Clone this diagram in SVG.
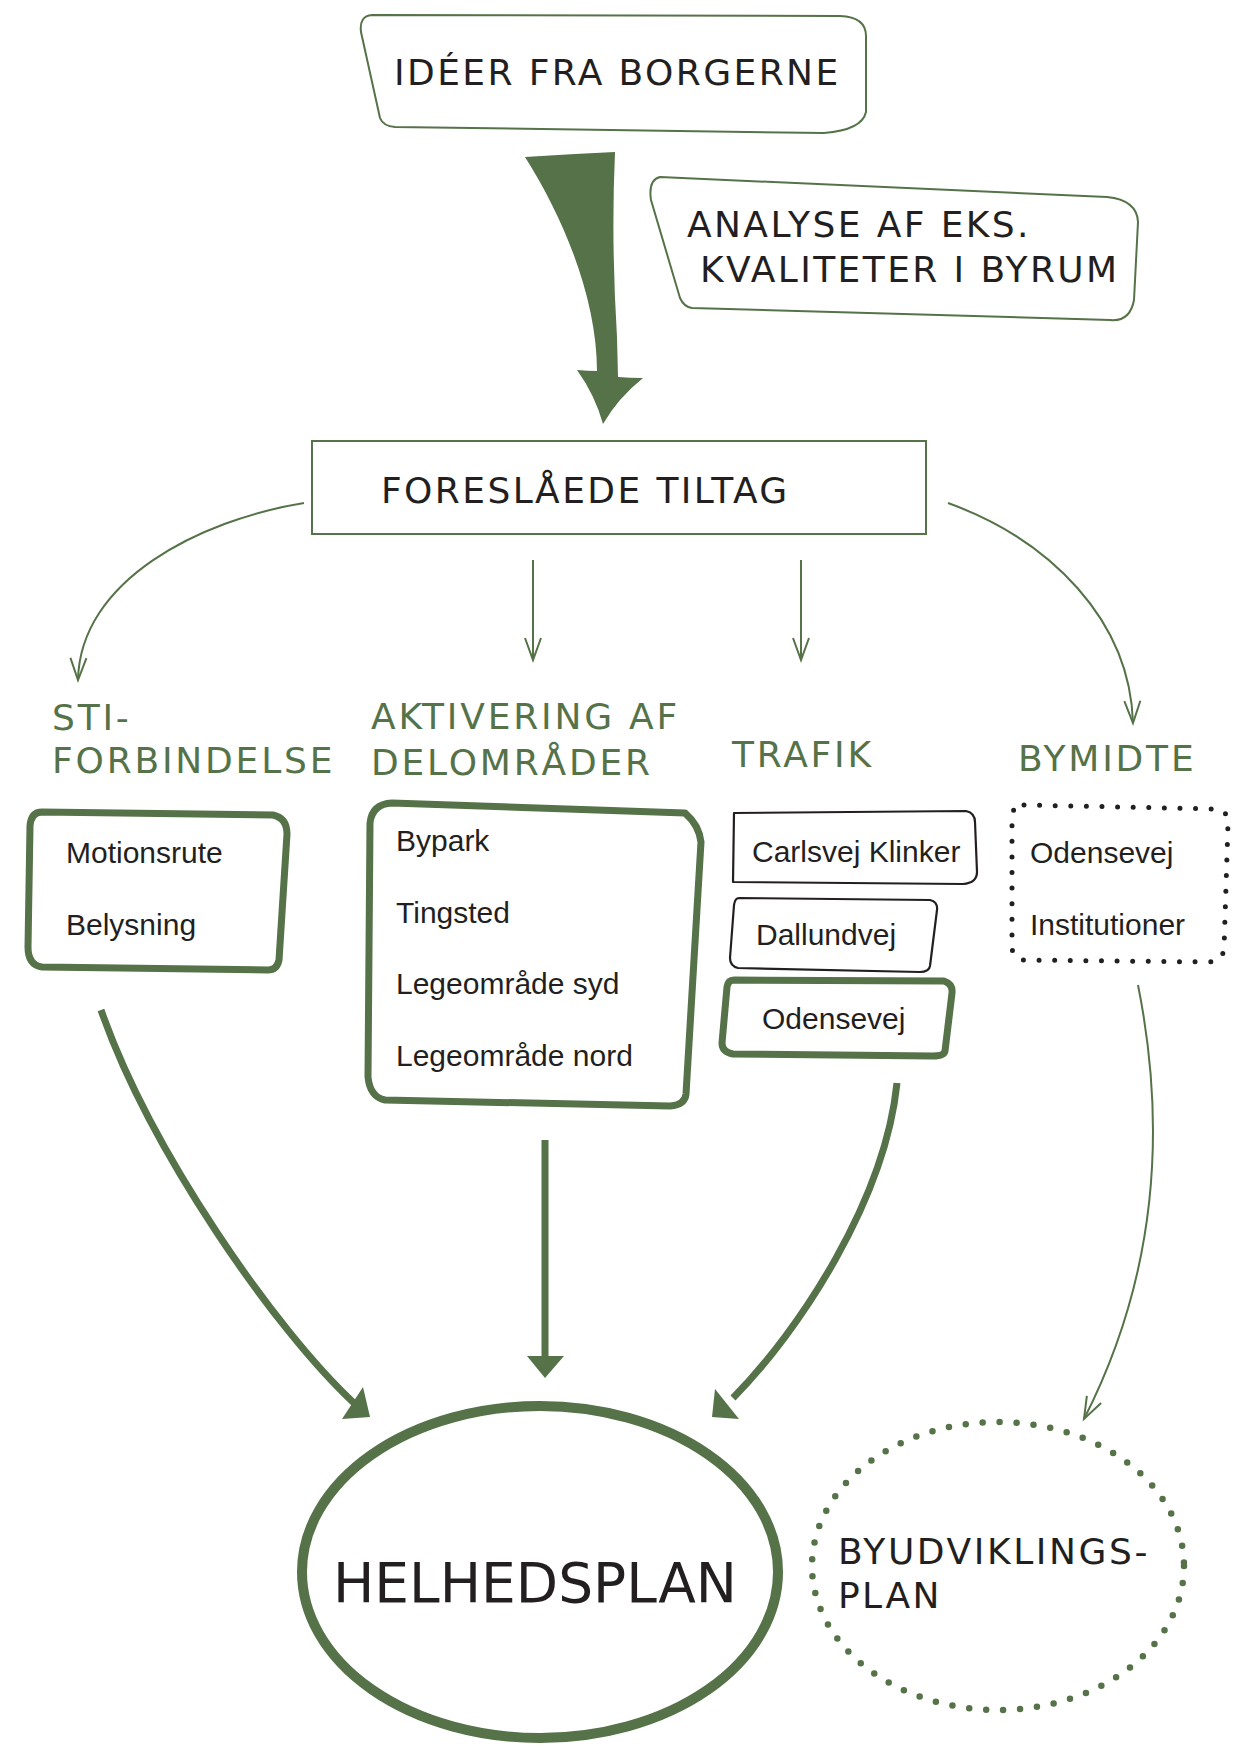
<svg xmlns="http://www.w3.org/2000/svg" width="1236" height="1748" viewBox="0 0 1236 1748">
<style>
.title{font-family:"DejaVu Sans","Liberation Sans",sans-serif;font-size:36px;letter-spacing:2.4px;fill:#231f20}
.head{font-family:"DejaVu Sans","Liberation Sans",sans-serif;font-size:36px;letter-spacing:2.8px;fill:#557248}
.item{font-family:"Liberation Sans",Arial,sans-serif;font-size:30px;fill:#231f20}
.thin{fill:none;stroke:#557248;stroke-width:2}
.thick{fill:none;stroke:#557248;stroke-width:7}
.gfill{fill:#557248;stroke:none}
.gbox{fill:none;stroke:#557248;stroke-width:7;stroke-linejoin:round}
.kbox{fill:none;stroke:#231f20;stroke-width:2.2;stroke-linejoin:round}
</style>
<defs>
<marker id="vhead" markerUnits="userSpaceOnUse" markerWidth="40" markerHeight="40" viewBox="-30 -20 40 40" refX="0" refY="0" orient="auto" overflow="visible">
<path d="M-22,-8 L0,0 L-22,8" fill="none" stroke="#557248" stroke-width="2"/>
</marker>
</defs>
<rect width="1236" height="1748" fill="#ffffff"/>

<g id="connectors">
<path id="bigArrow" class="gfill" d="M525,157 Q570,154 615,152 Q611,240 617,337 L618,377 Q630,378 643,378 Q618,398 603,424 Q595,395 577,370 Q588,371 597,371 C597,300 565,220 525,157 Z"/>
<path class="thin" d="M304,503 C200,520 80,580 78,680" marker-end="url(#vhead)"/>
<path class="thin" d="M533,560 L533,660" marker-end="url(#vhead)"/>
<path class="thin" d="M801,560 L801,660" marker-end="url(#vhead)"/>
<path class="thin" d="M948,503 C1050,540 1130,620 1133,723" marker-end="url(#vhead)"/>
<path class="thick" d="M101,1010 C150,1150 275,1330 355,1404"/>
<polygon class="gfill" points="370,1417 342,1419 363,1387"/>
<path class="thick" d="M545,1140 L545,1360"/>
<polygon class="gfill" points="527,1356 564,1356 545,1378"/>
<path class="thick" d="M897,1083 C885,1200 800,1330 733,1398"/>
<polygon class="gfill" points="712,1417 715,1389 739,1419"/>
<path class="thin" d="M1138,985 C1165,1120 1160,1270 1084,1419" marker-end="url(#vhead)"/>
</g>

<g id="node-ideer">
<path class="thin" d="M372,15 L840,16 Q866,17 866,36 L866,112 Q862,130 824,133 L395,127 Q383,126 380,118 L361,32 Q359,16 372,15 Z"/>
<text class="title" x="394" y="85">IDÉER FRA BORGERNE</text>
</g>

<g id="node-analyse">
<path class="thin" d="M660,177 L1107,197 Q1137,200 1138,222 L1134,300 Q1130,322 1110,320 L692,308 Q684,307 680,298 L651,200 Q648,180 660,177 Z"/>
<text class="title" x="687" y="237">ANALYSE AF EKS.</text>
<text class="title" x="700" y="282">KVALITETER I BYRUM</text>
</g>

<g id="node-foreslaaede">
<rect x="312" y="441" width="614" height="93" class="thin"/>
<text class="title" x="381" y="503">FORESLÅEDE TILTAG</text>
</g>

<g id="node-sti">
<text class="head" x="52" y="730">STI-</text>
<text class="head" x="52" y="773">FORBINDELSE</text>
<path class="gbox" d="M42,812 L273,815 Q287,818 287,834 L279,960 Q277,970 268,970 L42,967 Q28,965 28,947 L30,826 Q31,812 42,812 Z"/>
<text class="item" x="66" y="863">Motionsrute</text>
<text class="item" x="66" y="935">Belysning</text>
</g>

<g id="node-aktivering">
<text class="head" x="371" y="729">AKTIVERING AF</text>
<text class="head" x="371" y="775">DELOMRÅDER</text>
<path class="gbox" d="M392,803 L685,813 Q699,825 701,842 L686,1094 Q685,1105 670,1106 L385,1100 Q370,1097 368,1077 L370,823 Q372,804 392,803 Z"/>
<text class="item" x="396" y="851">Bypark</text>
<text class="item" x="396" y="923">Tingsted</text>
<text class="item" x="396" y="994">Legeområde syd</text>
<text class="item" x="396" y="1066">Legeområde nord</text>
</g>

<g id="node-trafik">
<text class="head" x="732" y="767">TRAFIK</text>
<path class="kbox" d="M734,813 L966,811 Q975,813 975,822 L977,872 Q977,883 963,884 L733,882 Z"/>
<text class="item" x="752" y="862">Carlsvej Klinker</text>
<path class="kbox" d="M739,898 L930,900 Q938,902 937,910 L930,966 Q929,972 920,972 L738,968 Q730,966 730,958 L734,905 Q735,898 739,898 Z"/>
<text class="item" x="756" y="945">Dallundvej</text>
<path class="gbox" d="M734,980 L944,981 Q953,984 952,993 L945,1051 Q944,1056 933,1056 L733,1054 Q722,1052 722,1043 L727,987 Q728,980 734,980 Z"/>
<text class="item" x="762" y="1029">Odensevej</text>
</g>

<g id="node-bymidte">
<text class="head" x="1018" y="771">BYMIDTE</text>
<path d="M1024,805 L1216,809 Q1229,811 1228,824 L1224,949 Q1222,962 1208,962 L1024,960 Q1012,959 1012,946 L1012,818 Q1012,805 1024,805 Z" fill="none" stroke="#231f20" stroke-width="5" stroke-linecap="round" stroke-dasharray="0 15.6"/>
<text class="item" x="1030" y="863">Odensevej</text>
<text class="item" x="1030" y="935">Institutioner</text>
</g>

<g id="node-helhedsplan">
<ellipse cx="540" cy="1572" rx="238" ry="166" fill="none" stroke="#557248" stroke-width="10"/>
<text x="333" y="1602" style="font-family:'DejaVu Sans','Liberation Sans',sans-serif;font-size:55px;fill:#231f20">HELHEDSPLAN</text>
</g>

<g id="node-byudvikling">
<ellipse cx="998" cy="1566" rx="186" ry="144" fill="none" stroke="#557248" stroke-width="6.5" stroke-linecap="round" stroke-dasharray="0 17"/>
<text class="title" x="838" y="1564" style="letter-spacing:2.6px">BYUDVIKLINGS-</text>
<text class="title" x="838" y="1608">PLAN</text>
</g>
</svg>
